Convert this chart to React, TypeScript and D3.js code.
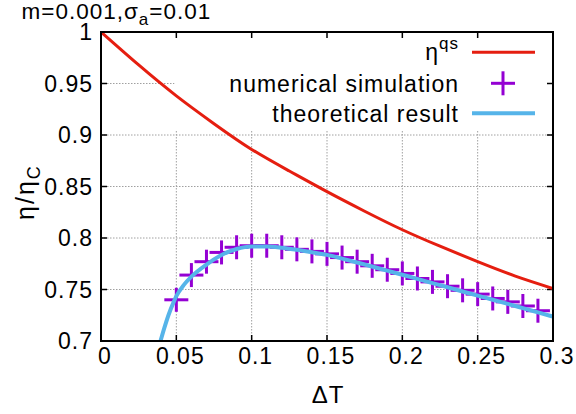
import React from "react";
import * as d3 from "d3";

const xTickValues = [0, 0.05, 0.1, 0.15, 0.2, 0.25, 0.3];
const xTickLabels = ["0", "0.05", "0.1", "0.15", "0.2", "0.25", "0.3"];
const yTickValues = [0.7, 0.75, 0.8, 0.85, 0.9, 0.95, 1];
const yTickLabels = ["0.7", "0.75", "0.8", "0.85", "0.9", "0.95", "1"];

// eta^qs curve
const qsX = [0, 0.025, 0.05, 0.075, 0.1, 0.125, 0.15, 0.175, 0.2, 0.225, 0.25, 0.275, 0.3];
const qsY = [1.0, 0.968, 0.938, 0.911, 0.886, 0.865, 0.845, 0.826, 0.808, 0.792, 0.777, 0.763, 0.751];

// numerical simulation
const simX = [0.05, 0.06, 0.07, 0.08, 0.09, 0.1, 0.11, 0.12, 0.13, 0.14, 0.15, 0.16, 0.17, 0.18, 0.19, 0.2, 0.21, 0.22, 0.23, 0.24, 0.25, 0.26, 0.27, 0.28, 0.29];
const simY = [0.74, 0.764, 0.777, 0.786, 0.791, 0.7925, 0.7925, 0.791, 0.789, 0.787, 0.7846, 0.781, 0.777, 0.773, 0.7692, 0.7656, 0.7607, 0.7574, 0.7532, 0.7492, 0.7455, 0.7413, 0.738, 0.734, 0.7294];

// theoretical result
const thX = [0.0395, 0.042, 0.045, 0.048, 0.05, 0.055, 0.06, 0.07, 0.08, 0.09, 0.1, 0.11, 0.12, 0.13, 0.14, 0.15, 0.16, 0.17, 0.18, 0.19, 0.2, 0.21, 0.22, 0.23, 0.24, 0.25, 0.26, 0.27, 0.28, 0.29, 0.3];
const thY = [0.7, 0.7125, 0.726, 0.737, 0.7435, 0.7545, 0.7625, 0.7742, 0.7835, 0.7893, 0.7917, 0.7917, 0.7905, 0.7885, 0.7862, 0.7836, 0.78, 0.7762, 0.7723, 0.7683, 0.7643, 0.7603, 0.7562, 0.7522, 0.7481, 0.7441, 0.74, 0.736, 0.7319, 0.7278, 0.7237];

const RED = "#e51e10";
const PURPLE = "#9400d3";
const BLUE = "#56b4e9";
const FONT = "'Liberation Sans', Arial, sans-serif";

export default function App() {
  const W = 576, H = 414;
  const left = 101, right = 553, top = 32, bottom = 341;
  const x = d3.scaleLinear().domain([0, 0.3]).range([left, right]);
  const y = d3.scaleLinear().domain([0.7, 1]).range([bottom, top]);

  const qsLine = d3.line<[number, number]>().x((d) => x(d[0])).y((d) => y(d[1])).curve(d3.curveNatural);
  const thLine = d3.line<[number, number]>().x((d) => x(d[0])).y((d) => y(d[1])).curve(d3.curveMonotoneX);
  const qsPath = qsLine(qsX.map((v, i) => [v, qsY[i]]) as [number, number][]) || "";
  const thPath = thLine(thX.map((v, i) => [v, thY[i]]) as [number, number][]) || "";

  const textStyle: React.CSSProperties = { fontFamily: FONT, fontSize: 23, letterSpacing: "1px" };
  const tick = 6;
  const arm = 12;

  return (
    <svg width={W} height={H} style={{ position: "absolute", left: 0, top: 0, background: "#fff" }}>
      <defs>
        <clipPath id="plotclip">
          <rect x={left} y={top} width={right - left} height={bottom - top} />
        </clipPath>
      </defs>
      <rect x={0} y={0} width={W} height={H} fill="#fff" />
      {/* grid */}
      <g stroke="#a0a0a0" strokeWidth={1} strokeDasharray="1.5,1.5">
        {xTickValues.slice(1, -1).map((v) => (
          <line key={"gx" + v} x1={x(v)} x2={x(v)} y1={top} y2={bottom} />
        ))}
        {yTickValues.slice(1, -1).map((v) => (
          <line key={"gy" + v} x1={left} x2={right} y1={y(v)} y2={y(v)} />
        ))}
      </g>
      {/* opaque key box */}
      <rect x={174.5} y={top + 1} width={right - 174.5 - 1} height={130 - top - 1} fill="#fff" />
      {/* ticks */}
      <g stroke="#000" strokeWidth={1.5}>
        {xTickValues.map((v) => (
          <g key={"tx" + v}>
            <line x1={x(v)} x2={x(v)} y1={bottom} y2={bottom - tick} />
            <line x1={x(v)} x2={x(v)} y1={top} y2={top + tick} />
          </g>
        ))}
        {yTickValues.map((v) => (
          <g key={"ty" + v}>
            <line x1={left} x2={left + tick} y1={y(v)} y2={y(v)} />
            <line x1={right} x2={right - tick} y1={y(v)} y2={y(v)} />
          </g>
        ))}
      </g>
      {/* data */}
      <g clipPath="url(#plotclip)">
        <path d={qsPath} fill="none" stroke={RED} strokeWidth={3} />
        <g stroke={PURPLE} strokeWidth={3}>
          {simX.map((v, i) => (
            <g key={"s" + i}>
              <line x1={x(v) - arm} x2={x(v) + arm} y1={y(simY[i])} y2={y(simY[i])} />
              <line x1={x(v)} x2={x(v)} y1={y(simY[i]) - arm} y2={y(simY[i]) + arm} />
            </g>
          ))}
        </g>
        <path d={thPath} fill="none" stroke={BLUE} strokeWidth={4} />
      </g>
      {/* frame */}
      <rect x={left} y={top} width={right - left} height={bottom - top} fill="none" stroke="#000" strokeWidth={2} />
      {/* tick labels */}
      <g style={textStyle} fill="#000">
        {xTickValues.map((v, i) => (
          <text key={"lx" + v} x={x(v) + 4} y={364} textAnchor="middle">{xTickLabels[i]}</text>
        ))}
        {yTickValues.map((v, i) => (
          <text key={"ly" + v} x={93} y={y(v) + 8} textAnchor="end">{yTickLabels[i]}</text>
        ))}
        <text x={(left + right) / 2 + 1} y={403} textAnchor="middle" style={{ fontSize: 24 }}>ΔT</text>
        <text transform="translate(34,192) rotate(-90)" textAnchor="middle" style={{ fontSize: 25, letterSpacing: "2px" }}>
          η/η<tspan dy={6} style={{ fontSize: 18 }}>C</tspan>
        </text>
        <text x={21.5} y={19} style={{ fontSize: 22.5, letterSpacing: "1px" }}>
          m=0.001,σ<tspan dy={6} style={{ fontSize: 17 }}>a</tspan><tspan dy={-6}>=0.01</tspan>
        </text>
      </g>
      {/* legend */}
      <g style={textStyle} fill="#000">
        <text x={459} y={60} textAnchor="end">
          η<tspan dy={-11} style={{ fontSize: 17 }}>qs</tspan>
        </text>
        <text x={459} y={91.5} textAnchor="end">numerical simulation</text>
        <text x={459} y={121.5} textAnchor="end">theoretical result</text>
      </g>
      <line x1={472} x2={535} y1={52.3} y2={52.3} stroke={RED} strokeWidth={3} />
      <g stroke={PURPLE} strokeWidth={3}>
        <line x1={503 - arm} x2={503 + arm} y1={83.3} y2={83.3} />
        <line x1={503} x2={503} y1={83.3 - arm} y2={83.3 + arm} />
      </g>
      <line x1={472} x2={535} y1={113.3} y2={113.3} stroke={BLUE} strokeWidth={4} />
    </svg>
  );
}
